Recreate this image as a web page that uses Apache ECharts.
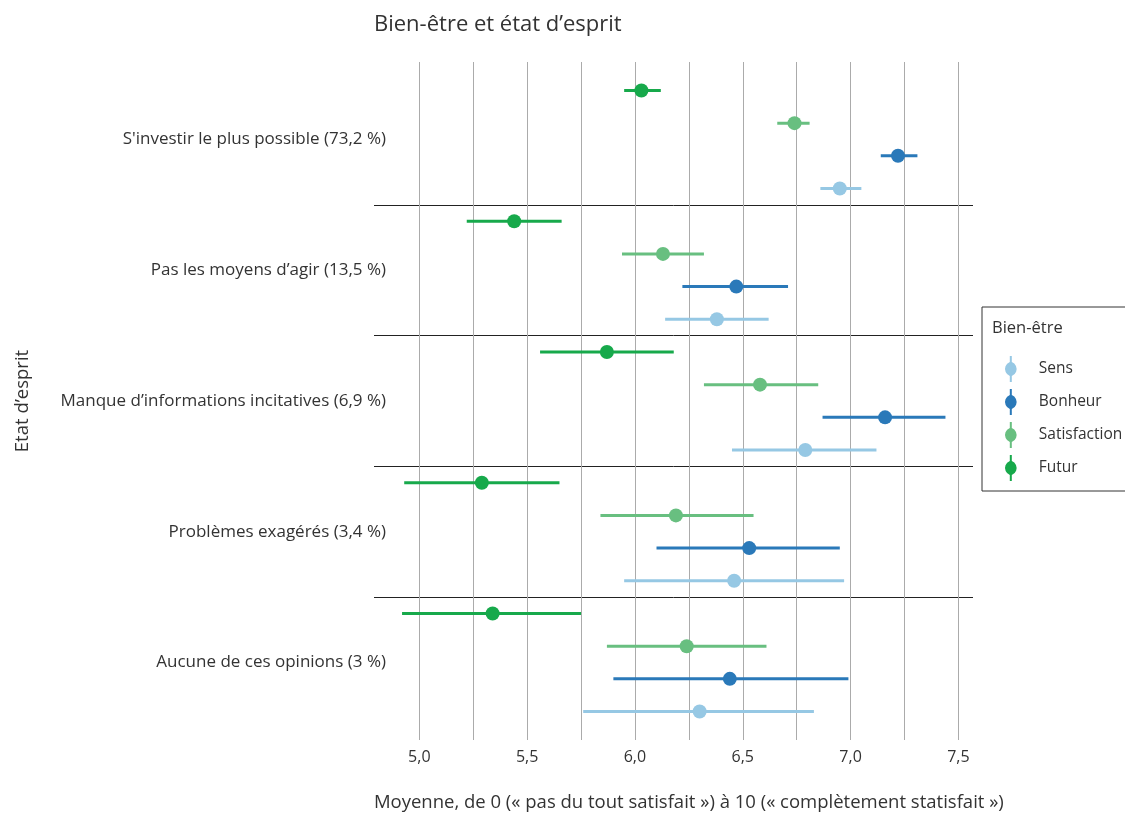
<!DOCTYPE html>
<html>
<head>
<meta charset="utf-8">
<script src="https://cdn.jsdelivr.net/npm/echarts@6/dist/echarts.min.js"></script>
<style>html,body{margin:0;padding:0;background:#fff}#c{width:1125px;height:813px}</style>
</head>
<body>
<div id="c"></div>
<script>
const categories = [
  "S'investir le plus possible (73,2 %)",
  "Pas les moyens d’agir (13,5 %)",
  "Manque d’informations incitatives (6,9 %)",
  "Problèmes exagérés (3,4 %)",
  "Aucune de ces opinions (3 %)"
];
const seriesNames = ["Sens", "Bonheur", "Satisfaction", "Futur"];
const xTicks = [5.0, 5.5, 6.0, 6.5, 7.0, 7.5];

const sensMean = [6.95, 6.38, 6.79, 6.46, 6.30];
const sensLow  = [6.86, 6.14, 6.45, 5.95, 5.76];
const sensHigh = [7.05, 6.62, 7.12, 6.97, 6.83];

const bonheurMean = [7.22, 6.47, 7.16, 6.53, 6.44];
const bonheurLow  = [7.14, 6.22, 6.87, 6.10, 5.90];
const bonheurHigh = [7.31, 6.71, 7.44, 6.95, 6.99];

const satisMean = [6.74, 6.13, 6.58, 6.19, 6.24];
const satisLow  = [6.66, 5.94, 6.32, 5.84, 5.87];
const satisHigh = [6.81, 6.32, 6.85, 6.55, 6.61];

const futurMean = [6.03, 5.44, 5.87, 5.29, 5.34];
const futurLow  = [5.95, 5.22, 5.56, 4.93, 4.92];
const futurHigh = [6.12, 5.66, 6.18, 5.65, 5.75];

const colors = { Sens: '#96c8e4', Bonheur: '#2a79b9', Satisfaction: '#68bf80', Futur: '#17a94b' };
// slot within each group, from top: Futur, Satisfaction, Bonheur, Sens
const slot = { Futur: 0, Satisfaction: 1, Bonheur: 2, Sens: 3 };
const src = {
  Sens: [sensLow, sensHigh, sensMean],
  Bonheur: [bonheurLow, bonheurHigh, bonheurMean],
  Satisfaction: [satisLow, satisHigh, satisMean],
  Futur: [futurLow, futurHigh, futurMean]
};

const FONT = '"Open Sans", sans-serif';
const TXT = '#333333';

function renderItem(params, api) {
  const y = api.value(3);
  const lo = api.coord([api.value(0), y]);
  const hi = api.coord([api.value(1), y]);
  const c = api.coord([api.value(2), y]);
  const color = api.visual('color');
  return {
    type: 'group',
    children: [
      { type: 'line', shape: { x1: lo[0], y1: lo[1], x2: hi[0], y2: hi[1] }, style: { stroke: color, lineWidth: 3 } },
      { type: 'circle', shape: { cx: c[0], cy: c[1], r: 7 }, style: { fill: color } }
    ]
  };
}

const series = seriesNames.map(name => ({
  name: name,
  type: 'custom',
  xAxisIndex: 0,
  yAxisIndex: 0,
  renderItem: renderItem,
  itemStyle: { color: colors[name] },
  encode: { x: [0, 1, 2], y: 3 },
  data: categories.map((_, k) => [src[name][0][k], src[name][1][k], src[name][2][k], k * 4 + slot[name] + 0.5]),
  z: 5
}));

const iconPath = 'path://M6.5,0 L8.5,0 L8.5,6 A7.5,7.5 0 0 1 8.5,20 L8.5,26 L6.5,26 L6.5,20 A7.5,7.5 0 0 1 6.5,6 Z';

const option = {
  animation: false,
  backgroundColor: '#ffffff',
  textStyle: { fontFamily: FONT, color: TXT },
  title: [
    { text: 'Bien-être et état d’esprit', left: 369, top: 9, textStyle: { fontFamily: FONT, fontSize: 22, fontWeight: 'normal', color: TXT } },
    { text: 'Bien-être', left: 987, top: 315, textStyle: { fontFamily: FONT, fontSize: 16.5, fontWeight: 'normal', color: TXT } }
  ],
  legend: {
    data: seriesNames,
    orient: 'vertical',
    left: 982,
    top: 307,
    padding: [49, 40, 10, 23],
    itemWidth: 46,
    itemHeight: 26,
    itemGap: 7,
    icon: iconPath,
    borderColor: '#333333',
    borderWidth: 1,
    textStyle: { fontFamily: FONT, fontSize: 15.5, color: TXT }
  },
  grid: [
    { left: 365.4, right: 112.7, top: 62, bottom: 73, outerBoundsMode: 'none', containLabel: false },
    { left: 374, right: 152, top: 74.1, bottom: 85.1, outerBoundsMode: 'none', containLabel: false }
  ],
  xAxis: [
    {
      type: 'value', gridIndex: 0, min: 4.75, max: 7.75, interval: 0.25,
      name: 'Moyenne, de 0 (« pas du tout satisfait ») à 10 (« complètement statisfait »)',
      nameLocation: 'middle', nameGap: 53,
      nameTextStyle: { fontFamily: FONT, fontSize: 18.5, color: TXT },
      axisLine: { show: false }, axisTick: { show: false },
      axisLabel: {
        showMinLabel: false, showMaxLabel: false, margin: 9,
        fontFamily: FONT, fontSize: 16, color: TXT,
        formatter: v => xTicks.some(t => Math.abs(t - v) < 1e-6) ? v.toFixed(1).replace('.', ',') : ''
      },
      splitLine: { show: true, showMinLine: false, showMaxLine: false, lineStyle: { color: '#ababab', width: 1 } }
    },
    { type: 'value', gridIndex: 1, show: false, min: 0, max: 1 }
  ],
  yAxis: [
    { type: 'value', gridIndex: 0, inverse: true, min: -0.37, max: 20.37, show: false },
    {
      type: 'category', gridIndex: 1, inverse: true, data: categories, boundaryGap: true,
      name: 'Etat d’esprit', nameLocation: 'middle', nameGap: 342, nameRotate: 90,
      nameTextStyle: { fontFamily: FONT, fontSize: 18.5, color: TXT },
      axisLine: { show: false }, axisTick: { show: false },
      axisLabel: { interval: 0, margin: -12, fontFamily: FONT, fontSize: 17, color: TXT },
      splitLine: { show: true, interval: 0, showMinLine: false, showMaxLine: false, lineStyle: { color: '#222222', width: 1 } }
    }
  ],
  series: series
};

const chart = echarts.init(document.getElementById('c'), null, { renderer: 'canvas' });
chart.setOption(option);
</script>
</body>
</html>
